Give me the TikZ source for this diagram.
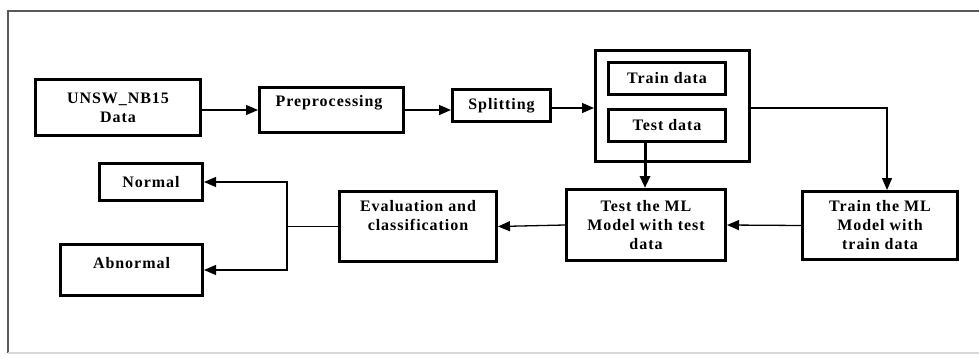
\documentclass[tikz,border=0pt]{standalone}
\usepackage{fontspec}
\setmainfont{Liberation Serif}[LetterSpace=6]
\usetikzlibrary{arrows.meta}

\begin{document}
\begin{tikzpicture}[x=1pt,y=1pt]
\tikzstyle{every node}+=[inner sep=0pt, font=\bfseries\fontsize{16}{19}\selectfont, align=center]
\tikzstyle{box}=[draw=black, line width=3pt]
\tikzstyle{arr}=[draw=black, line width=1.3pt, -{Triangle[length=12pt,width=10pt]}]
\useasboundingbox (0,0) rectangle (979,-356);
% frame
\draw [black!65, line width=1.6pt] (985,-11) -- (8,-11) -- (8,-353);
\draw [black!15, line width=1.2pt] (8,-353) -- (985,-353);
% top row
\node [box, minimum width=165, minimum height=56] (unsw) at (118,-107.5) {UNSW\_NB15\\Data};
\node [box, minimum width=144, minimum height=45] (prep) at (331.5,-110) {};
\node (preptext) at (329,-103) {Preprocessing};
\node [box, minimum width=98, minimum height=32] (split) at (501.5,-105.5) {Splitting};
\node [box, minimum width=154, minimum height=111] (cont) at (672.5,-106) {};
\node [box, minimum width=117, minimum height=32] (traind) at (667,-78.5) {Train data};
\node [box, minimum width=117, minimum height=32] (testd) at (667,-125.5) {Test data};
% bottom row
\node [box, minimum width=155, minimum height=68] (trainml) at (880,-225.5) {Train the ML\\Model with\\train data};
\node [box, minimum width=159, minimum height=71] (testml) at (646,-225) {Test the ML\\Model with test\\data};
\node [box, minimum width=157, minimum height=70] (eval) at (418,-226.5) {};
\node (evaltext) at (418,-216) {Evaluation and\\classification};
\node [box, minimum width=103, minimum height=37] (normal) at (151,-182) {Normal};
\node [box, minimum width=142, minimum height=51] (abnormal) at (131.5,-270) {};
\node (abnormaltext) at (131.5,-263) {Abnormal};
% connectors
\draw [arr] (unsw.east |- prep) -- (prep.west);
\draw [arr] (prep.east) -- (prep.east -| split.west);
\draw [arr] (split.east |- 0,-108) -- (cont.west |- 0,-108);
\draw [arr] (cont.east |- 0,-108) -| ([xshift=7]trainml.north);
\draw [arr, line width=3pt] ([xshift=-22]testd.south) -- ([xshift=-22]testd.south |- testml.north);
\draw [arr] (trainml.west) -- (testml.east);
\draw [arr] (testml.west) -- (eval.east);
\draw [black, line width=1.3pt] (eval.west) -- ++(-51,0) coordinate (fork);
\draw [arr] (fork) |- (normal.east);
\draw [arr] (fork) |- (abnormal.east);
\end{tikzpicture}
\end{document}
